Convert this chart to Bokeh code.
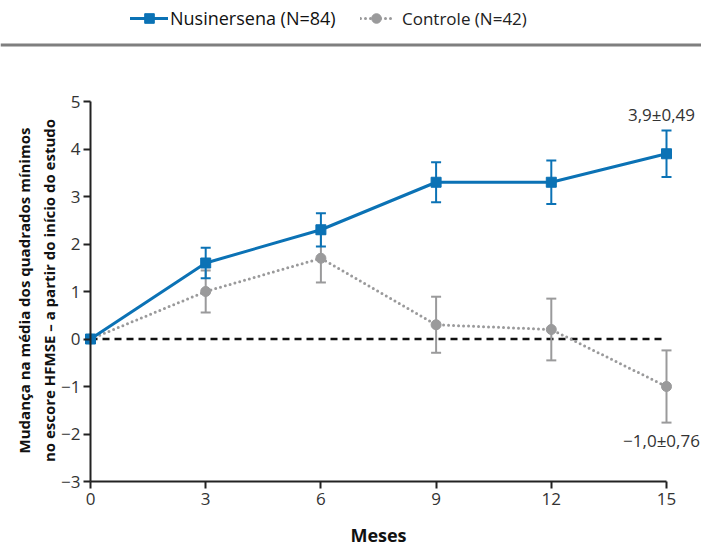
from bokeh.plotting import figure
from bokeh.models import Range1d, Label, BoxAnnotation, Legend, LegendItem, FixedTicker, ColumnDataSource
from bokeh.embed import file_html
from bokeh.resources import INLINE

# ---- data ----
months = [0, 3, 6, 9, 12, 15]
nus_mean = [0.0, 1.6, 2.3, 3.3, 3.3, 3.9]
nus_err = [0.0, 0.32, 0.35, 0.42, 0.46, 0.49]
ctl_mean = [0.0, 1.0, 1.7, 0.3, 0.2, -1.0]
ctl_err = [0.0, 0.44, 0.51, 0.59, 0.65, 0.76]
x_ticks = [0, 3, 6, 9, 12, 15]
y_ticks = [-3, -2, -1, 0, 1, 2, 3, 4, 5]
nus_label = "Nusinersena (N=84)"
ctl_label = "Controle (N=42)"
nus_note = "3,9±0,49"
ctl_note = "−1,0±0,76"
x_title = "Meses"
y_title = "Mudança na média dos quadrados mínimos\nno escore HFMSE – a partir do início do estudo"

BLUE = "#0b72b5"
GRAY = "#9a9a9b"
FONT = "Open Sans"
CTL_DASH = "0 5"

# ---- layout geometry (pixels) ----
W, H = 701, 547
AX_LEFT, AX_RIGHT = 90, 666      # canvas x of month 0 and month 15
AX_TOP, AX_BOTTOM = 101, 481     # canvas y of value 5 and value -3
px_x = (AX_RIGHT - AX_LEFT) / (x_ticks[-1] - x_ticks[0])
px_y = (AX_BOTTOM - AX_TOP) / (y_ticks[-1] - y_ticks[0])
x_range = Range1d(x_ticks[0] - AX_LEFT / px_x, x_ticks[-1] + (W - AX_RIGHT) / px_x)
y_range = Range1d(y_ticks[0] - (H - AX_BOTTOM) / px_y, y_ticks[-1] + AX_TOP / px_y)

p = figure(frame_width=W, frame_height=H, output_backend="svg", toolbar_location=None,
           x_range=x_range, y_range=y_range,
           min_border=0, min_border_left=0, min_border_right=0, min_border_top=0, min_border_bottom=0)
p.outline_line_color = None
p.grid.visible = False

for ax in (p.xaxis[0], p.yaxis[0]):
    ax.axis_line_color = "#222222"
    ax.axis_line_width = 2
    ax.major_tick_line_color = "#222222"
    ax.major_tick_line_width = 2
    ax.major_tick_out = 7
    ax.major_tick_in = 0
    ax.minor_tick_line_color = None
    ax.major_label_text_font = FONT
    ax.major_label_text_font_size = "17px"
    ax.major_label_text_color = "#333333"
p.xaxis.ticker = FixedTicker(ticks=x_ticks)
p.yaxis.ticker = FixedTicker(ticks=y_ticks)
p.xaxis.bounds = (x_ticks[0], x_ticks[-1])
p.yaxis.bounds = (y_ticks[0], y_ticks[-1])
p.xaxis.fixed_location = y_ticks[0]
p.yaxis.fixed_location = x_ticks[0]
p.yaxis.major_label_overrides = {t: (str(t) if t >= 0 else "−" + str(-t)) for t in y_ticks}
p.xaxis.major_label_standoff = 4
p.yaxis.major_label_standoff = 3

# zero reference line over the month span
p.line(x=[months[0], months[-1]], y=[0, 0], line_color="#111111", line_width=2.5, line_dash="7 5")

def series(mean, err, color, marker, size, dash, width):
    lo = [m - e for m, e in zip(mean, err)]
    hi = [m + e for m, e in zip(mean, err)]
    src = ColumnDataSource(dict(x=months, y=mean, lo=lo, hi=hi))
    p.segment(x0="x", y0="lo", x1="x", y1="hi", source=src, line_color=color, line_width=2)
    p.scatter(x="x", y="lo", source=src, marker="dash", size=10, line_color=color, line_width=2)
    p.scatter(x="x", y="hi", source=src, marker="dash", size=10, line_color=color, line_width=2)
    ln = p.line(x="x", y="y", source=src, line_color=color, line_width=width, line_dash=dash, line_cap="round")
    mk = p.scatter(x="x", y="y", source=src, marker=marker, size=size, fill_color=color, line_color=color)
    return ln, mk

cl, cm = series(ctl_mean, ctl_err, GRAY, "circle", 10, CTL_DASH, 3)
nl, nm = series(nus_mean, nus_err, BLUE, "square", 10, "solid", 3)

# end-point annotations
p.add_layout(Label(x=months[-1], y=nus_mean[-1] + nus_err[-1], text=nus_note, text_align="center",
                   text_baseline="bottom", x_offset=-5, y_offset=4, text_font=FONT,
                   text_font_size="17px", text_color="#333333"))
p.add_layout(Label(x=months[-1], y=ctl_mean[-1] - ctl_err[-1], text=ctl_note, text_align="center",
                   text_baseline="top", x_offset=-5, y_offset=-6, text_font=FONT,
                   text_font_size="17px", text_color="#333333"))

# axis titles (canvas units, origin top-left)
p.add_layout(Label(x=378, y=534, x_units="canvas", y_units="canvas", text=x_title, text_align="center",
                   text_baseline="middle", text_font=FONT, text_font_size="18px", text_font_style="bold",
                   text_color="#111111"))
p.add_layout(Label(x=36, y=290, x_units="canvas", y_units="canvas", text=y_title,
                   text_align="center", text_baseline="middle", angle=1.5707963, text_font=FONT,
                   text_font_size="15px", text_font_style="bold", text_color="#111111",
                   text_line_height=1.25))

# top rule
p.add_layout(BoxAnnotation(left=0, right=W, top=43, bottom=46, left_units="canvas", right_units="canvas",
                           top_units="canvas", bottom_units="canvas", fill_color="#7f7f7f", fill_alpha=1,
                           line_color=None, line_alpha=0))

# legends (location = bottom-left of legend box, measured from frame bottom-left)
lg1 = Legend(items=[LegendItem(label=nus_label, renderers=[nl, nm])], location=(130, H - 30),
             orientation="horizontal", padding=0, margin=0, spacing=0, glyph_width=38, glyph_height=24,
             label_height=24, label_standoff=2, border_line_alpha=0, background_fill_alpha=0,
             label_text_font=FONT, label_text_font_size="18px", label_text_color="#111111")
lg2 = Legend(items=[LegendItem(label=ctl_label, renderers=[cl, cm])], location=(360, H - 30),
             orientation="horizontal", padding=0, margin=0, spacing=0, glyph_width=32, glyph_height=24,
             label_height=24, label_standoff=10, border_line_alpha=0, background_fill_alpha=0,
             label_text_font=FONT, label_text_font_size="17px", label_text_color="#222222")
p.add_layout(lg1)
p.add_layout(lg2)

open("out.html", "w").write(file_html(p, INLINE))
